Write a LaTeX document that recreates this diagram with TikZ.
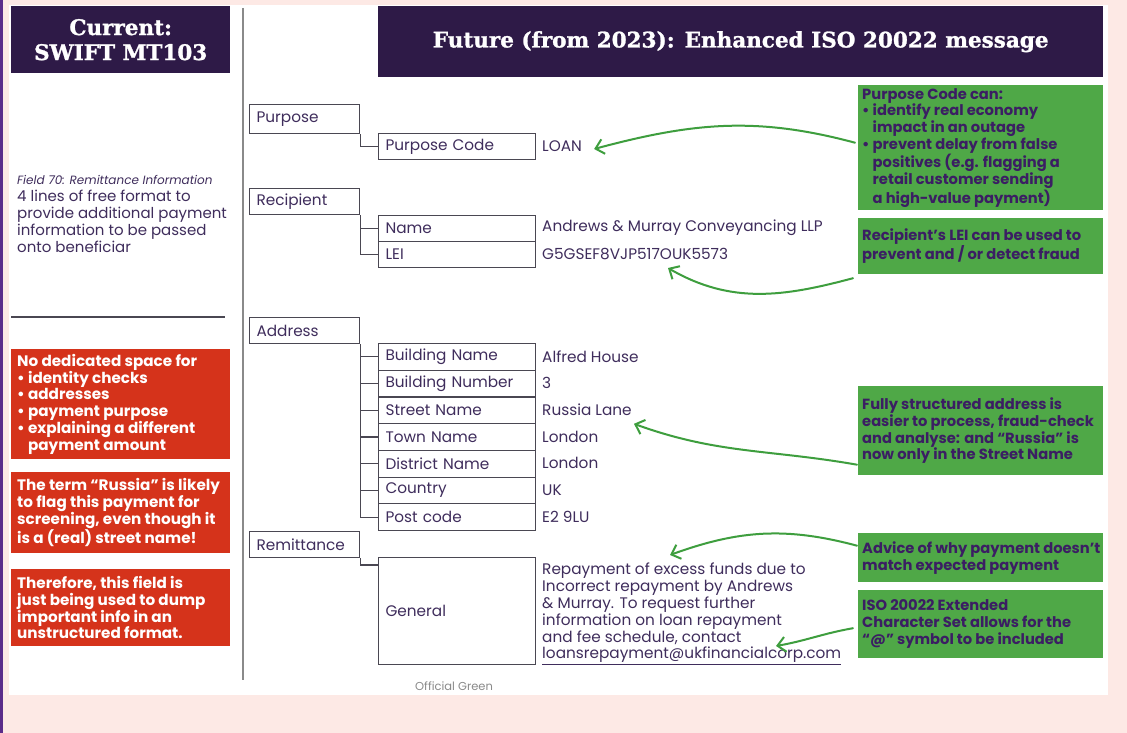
\documentclass[tikz,border=0pt]{standalone}
\usepackage{fontspec}
\setmainfont{Poppins}
\newfontfamily\hdfont[BoldFeatures={FakeBold=1.2}]{DejaVu Serif}
\usetikzlibrary{arrows.meta,calc}
\definecolor{bgpink}{HTML}{FDE9E5}
\definecolor{edgepurple}{HTML}{5B2C8A}
\definecolor{hdpurple}{HTML}{2E1A47}
\definecolor{redbg}{HTML}{D5331B}
\definecolor{greenbg}{HTML}{4FA847}
\definecolor{greentxt}{HTML}{3B1E63}
\definecolor{bodytxt}{HTML}{3F2D5C}
\definecolor{boxline}{HTML}{4A4752}
\definecolor{divgrey}{HTML}{8A8A8A}
\definecolor{arrowgreen}{HTML}{3E9E3E}
\newcommand\bodysize{\fontsize{15.3}{16.8}\selectfont}
\newcommand\redsize{\bfseries\fontsize{15.2}{16.8}\selectfont}
\newcommand\notesize{\bfseries\fontsize{14.7}{16.8}\selectfont}
\begin{document}
\begin{tikzpicture}[x=1pt,y=-1pt,
  hdr/.style={fill=hdpurple, text=white, anchor=north west, inner sep=0pt, align=center,
    font=\hdfont\bfseries\fontsize{21.5}{25}\selectfont},
  tbox/.style={draw=boxline, line width=1.1pt, fill=white, anchor=north west, inner xsep=7pt,
    inner ysep=0pt, align=left, font=\bodysize, text=bodytxt},
  val/.style={anchor=west, inner sep=0pt, font=\bodysize, text=bodytxt, align=left},
  conn/.style={draw=boxline, line width=1.1pt},
  redbox/.style={fill=redbg, anchor=north west, inner sep=0pt, minimum width=219pt},
  redtxt/.style={anchor=west, inner sep=0pt, align=left, text=white, font=\redsize},
  grbox/.style={fill=greenbg, anchor=north west, inner sep=0pt, minimum width=245pt},
  grtxt/.style={anchor=west, inner sep=0pt, align=left, text=greentxt, font=\notesize},
  garrow/.style={draw=arrowgreen, line width=2pt, line cap=round,
    -{Straight Barb[length=8pt,width=15pt,line width=2pt]}}
]
\useasboundingbox (0,0) rectangle (1127,733);
\fill[bgpink] (0,0) rectangle (1127,733);
\fill[edgepurple] (0,0) rectangle (2.5,733);
\fill[white] (9,5) rectangle (1108,695);

% headers
\node[hdr, minimum width=219pt, minimum height=67pt] (curhdr) at (11,6) {Current:\\SWIFT MT103};
\node[hdr, minimum width=725pt, minimum height=71pt] (futhdr) at (378,6) {Future (from 2023): Enhanced ISO 20022 message};

% divider and separator
\draw[divgrey, line width=1.4pt] (243,8) -- (243,680);
\draw[boxline, line width=1.2pt] (11,317) -- (225,317);

% left description
\node[anchor=west, inner sep=0pt, text=bodytxt, font=\itshape\fontsize{12}{15}\selectfont] (f70) at (17,180) {Field 70: Remittance Information};
\node[anchor=west, inner sep=0pt, text=bodytxt, align=left, font=\fontsize{15}{16.8}\selectfont] (f70d) at (17,221.5)
  {4 lines of free format to\\provide additional payment\\information to be passed\\onto beneficiar};

% red boxes
\node[redbox, minimum height=110pt] (red1) at (11,349) {};
\node[redtxt] (red1t) at ([xshift=6pt]red1.west) {No dedicated space for\\• identity checks\\• addresses\\• payment purpose\\• explaining a different\\\hphantom{• }payment amount};
\node[redbox, minimum height=81pt] (red2) at (11,472) {};
\node[redtxt] (red2t) at ([xshift=6pt]red2.west) {The term “Russia” is likely\\to flag this payment for\\screening, even though it\\is a (real) street name!};
\node[redbox, minimum height=77pt] (red3) at (11,569) {};
\node[redtxt] (red3t) at ([xshift=6pt]red3.west) {Therefore, this field is\\just being used to dump\\important info in an\\unstructured format.};

% tree
\node[tbox, text width=96pt, minimum height=29pt] (purpose) at (249,104) {Purpose};
\node[tbox, text width=143pt, minimum height=26pt] (pcode) at (378,133) {Purpose Code};
\node[val] (loan) at (542,146) {LOAN};

\node[tbox, text width=96pt, minimum height=26pt] (recip) at (249,188) {Recipient};
\node[tbox, text width=143pt, minimum height=26pt] (name) at (378,215) {Name};
\node[tbox, text width=143pt, minimum height=26pt] (lei) at (378,241) {LEI};
\node[val] (namev) at (542,228) {Andrews \& Murray Conveyancing LLP};
\node[val] (leiv) at (542,254) {G5GSEF8VJP517OUK5573};

\node[tbox, text width=96pt, minimum height=26pt] (address) at (249,317) {Address};
\node[tbox, text width=143pt, minimum height=26.7pt] (bname) at (378,343) {Building Name};
\node[tbox, text width=143pt, minimum height=26.7pt] (bnum) at (378,369.7) {Building Number};
\node[tbox, text width=143pt, minimum height=26.7pt] (street) at (378,396.4) {Street Name};
\node[tbox, text width=143pt, minimum height=26.7pt] (town) at (378,423.1) {Town Name};
\node[tbox, text width=143pt, minimum height=26.7pt] (district) at (378,449.8) {District Name};
\node[tbox, text width=143pt, minimum height=26.7pt] (country) at (378,476.5) {Country};
\node[tbox, text width=143pt, minimum height=26.7pt] (postcode) at (378,503.2) {Post code};
\node[val] (bnamev) at (542,356.4) {Alfred House};
\node[val] (bnumv) at (542,383.1) {3};
\node[val] (streetv) at (542,409.8) {Russia Lane};
\node[val] (townv) at (542,436.5) {London};
\node[val] (districtv) at (542,463.2) {London};
\node[val] (countryv) at (542,489.9) {UK};
\node[val] (postcodev) at (542,516.6) {E2 9LU};

\node[tbox, text width=96pt, minimum height=26pt] (remit) at (249,531) {Remittance};
\node[tbox, text width=143pt, minimum height=107pt] (general) at (378,557) {General};
\node[val] (generalv) at (542,614) {Repayment of excess funds due to\\Incorrect repayment by Andrews\\\& Murray. To request further\\information on loan repayment\\and fee schedule, contact\\\underline{loansrepayment@ukfinancialcorp.com}};

\node[anchor=west, inner sep=0pt, text=divgrey, font=\fontsize{11.5}{12}\selectfont] (offg) at (415,686) {Official Green};

% connectors
\draw[conn] (purpose.south east) |- (pcode.west);
\draw[conn] (recip.south east) |- (name.west);
\draw[conn] (recip.south east) |- (lei.west);
\foreach \r in {bname,bnum,street,town,district,country,postcode}
  \draw[conn] (address.south east) |- (\r.west);
\draw[conn] (remit.south east) |- ([yshift=-8pt]general.north west);

% green notes
\node[grbox, minimum height=125pt] (g1) at (858,85) {};
\node[grtxt] (g1t) at ([xshift=4pt]g1.west) {Purpose Code can:\\• identify real economy\\\hphantom{• }impact in an outage\\• prevent delay from false\\\hphantom{• }positives (e.g. flagging a\\\hphantom{• }retail customer sending\\\hphantom{• }a high-value payment)};
\node[grbox, minimum height=56pt] (g2) at (858,218) {};
\node[grtxt] (g2t) at ([xshift=4pt]g2.west) {Recipient’s LEI can be used to\\prevent and / or detect fraud};
\node[grbox, minimum height=89pt] (g3) at (858,386) {};
\node[grtxt] (g3t) at ([xshift=4pt]g3.west) {Fully structured address is\\easier to process, fraud-check\\and analyse: and “Russia” is\\now only in the Street Name};
\node[grbox, minimum height=49pt] (g4) at (858,533) {};
\node[grtxt] (g4t) at ([xshift=4pt]g4.west) {Advice of why payment doesn’t\\match expected payment};
\node[grbox, minimum height=68pt] (g5) at (858,590) {};
\node[grtxt] (g5t) at ([xshift=4pt]g5.west) {ISO 20022 Extended\\Character Set allows for the\\“@” symbol to be included};

% arrows
\draw[garrow] ([xshift=-3pt,yshift=5pt]g1.west) to[out=165,in=15] ([xshift=12pt,yshift=-3pt]loan.east);
\draw[garrow] ([xshift=-5pt,yshift=-32pt]g2.west) to[out=195,in=330] ([xshift=126pt,yshift=-14pt]leiv.west);
\draw[garrow] ([xshift=-1pt,yshift=-34pt]g3.west) to[out=170,in=340] ([xshift=92pt,yshift=-14pt]streetv.west);
\draw[garrow] ([xshift=-1pt,yshift=12pt]g4.west) to[out=165,in=20] ([xshift=128pt,yshift=59pt]generalv.west);
\draw[garrow] ([xshift=-5pt,yshift=-4pt]g5.west) to[out=190,in=10] ([xshift=234pt,yshift=-32pt]generalv.west);
\end{tikzpicture}
\end{document}
